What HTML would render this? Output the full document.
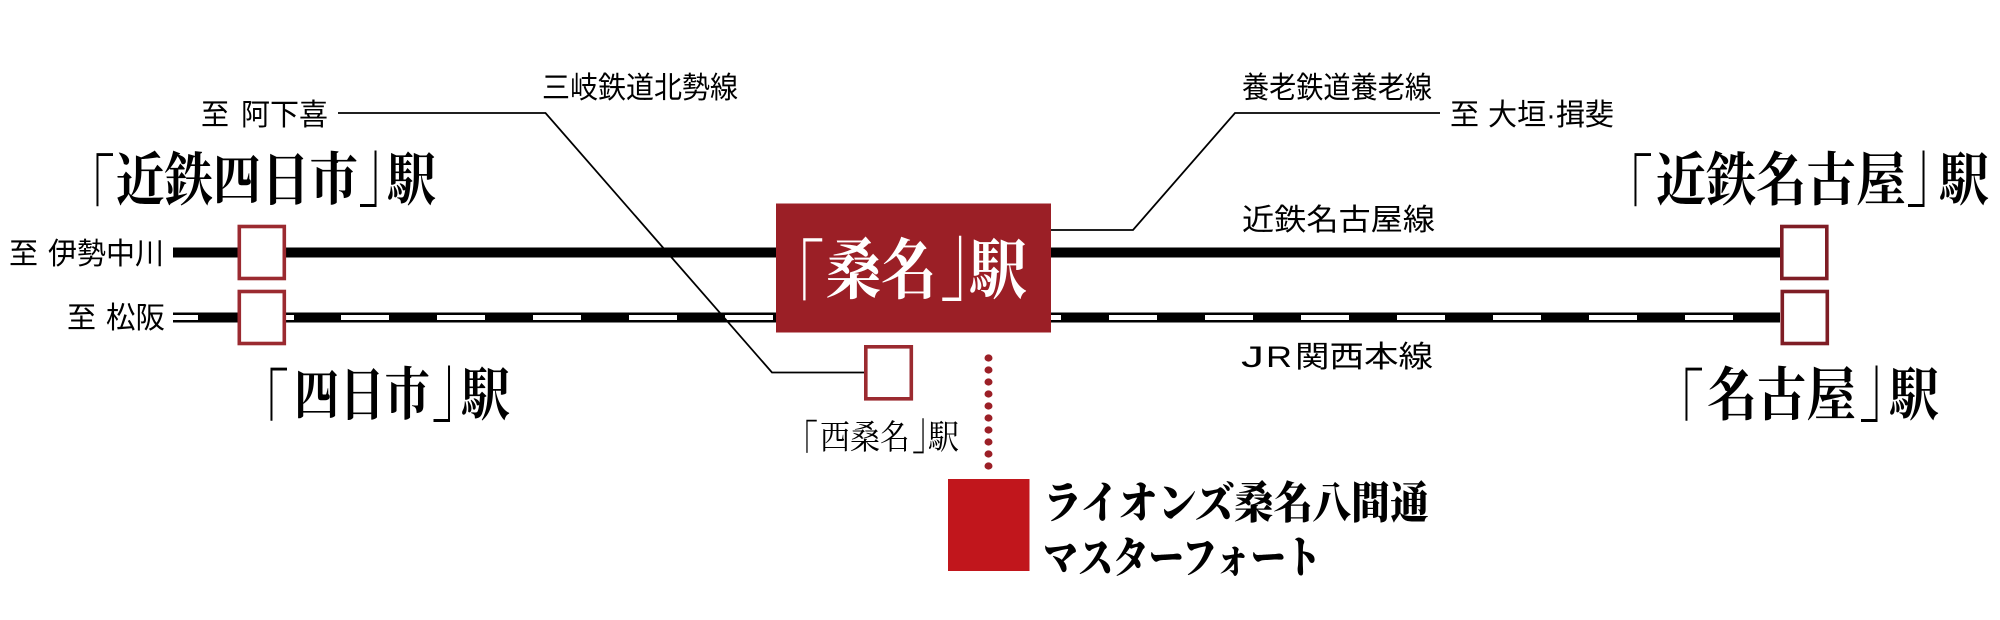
<!DOCTYPE html>
<html lang="ja"><head><meta charset="utf-8"><title>Diagram</title>
<style>
html,body{margin:0;padding:0;background:#fff;width:2000px;height:620px;overflow:hidden}
svg{display:block}
.s{font-family:"Liberation Sans","Noto Sans CJK JP",sans-serif;font-size:30px;font-weight:400;fill:#000}
.b{font-family:"Liberation Serif","Noto Serif CJK SC",serif;font-size:58px;font-weight:700;fill:#000}
.br{font-family:"Liberation Serif","Noto Serif CJK SC",serif;font-size:54px;font-weight:400;fill:#000}
.m{font-family:"Liberation Serif","Noto Serif CJK SC",serif;font-size:34px;font-weight:400;fill:#000}
.n{font-family:"Liberation Serif","Noto Serif CJK SC",serif;font-size:44px;font-weight:900;fill:#000}
.w{fill:#fff}
</style></head><body>
<svg xmlns="http://www.w3.org/2000/svg" width="2000" height="620" viewBox="0 0 2000 620">
<rect width="2000" height="620" fill="#fff"/>
<!-- lines -->
<rect x="173" y="247.5" width="1607" height="10" fill="#000"/>
<rect x="173" y="312.5" width="1607" height="10" fill="#000"/>
<g fill="#fff">
<rect x="173" y="315" width="25" height="5"/>
<rect x="286" y="315" width="8" height="5"/><rect x="341" y="315" width="48" height="5"/><rect x="437" y="315" width="48" height="5"/><rect x="533" y="315" width="48" height="5"/><rect x="629" y="315" width="48" height="5"/><rect x="725" y="315" width="48" height="5"/>
<rect x="1051" y="315" width="10" height="5"/><rect x="1109" y="315" width="48" height="5"/><rect x="1205" y="315" width="48" height="5"/><rect x="1301" y="315" width="48" height="5"/><rect x="1397" y="315" width="48" height="5"/><rect x="1493" y="315" width="48" height="5"/><rect x="1589" y="315" width="48" height="5"/><rect x="1685" y="315" width="48" height="5"/>
</g>
<!-- leader lines -->
<polyline points="338,113 545.5,113 772,372.5 866,372.5" fill="none" stroke="#000" stroke-width="1.8"/>
<polyline points="1051,230 1133,230 1235,113 1440,113" fill="none" stroke="#000" stroke-width="1.8"/>
<!-- main box -->
<rect x="776" y="203.5" width="275" height="129" fill="#9b1f26"/>
<!-- stations -->
<g fill="#fff" stroke="#9b2a30" stroke-width="3.6">
<rect x="239.3" y="226.5" width="45" height="52"/>
<rect x="239.3" y="291.5" width="45" height="52"/>
<rect x="865.8" y="346.8" width="45.5" height="52"/>
</g>
<g fill="#fff" stroke="#7f1d25" stroke-width="3.6">
<rect x="1781.8" y="226.5" width="45" height="52"/>
<rect x="1782.3" y="291.5" width="45" height="52"/>
</g>
<!-- dots -->
<g fill="#9b1f26">
<ellipse cx="988.5" cy="358" rx="4" ry="3.6"/><ellipse cx="988.5" cy="370" rx="4" ry="3.6"/><ellipse cx="988.5" cy="382" rx="4" ry="3.6"/><ellipse cx="988.5" cy="394" rx="4" ry="3.6"/><ellipse cx="988.5" cy="406" rx="4" ry="3.6"/><ellipse cx="988.5" cy="418" rx="4" ry="3.6"/><ellipse cx="988.5" cy="430" rx="4" ry="3.6"/><ellipse cx="988.5" cy="442" rx="4" ry="3.6"/><ellipse cx="988.5" cy="454" rx="4" ry="3.6"/><ellipse cx="988.5" cy="466" rx="4" ry="3.6"/>
</g>
<rect x="948" y="479" width="81.5" height="92" fill="#c1161c"/>
<!-- small labels -->
<text class="s" x="201" y="125" textLength="28" lengthAdjust="spacingAndGlyphs">至</text>
<text class="s" x="241" y="125" textLength="87" lengthAdjust="spacingAndGlyphs">阿下喜</text>
<text class="s" x="9" y="264" textLength="29" lengthAdjust="spacingAndGlyphs">至</text>
<text class="s" x="48" y="264" textLength="116" lengthAdjust="spacingAndGlyphs">伊勢中川</text>
<text class="s" x="67" y="328" textLength="29" lengthAdjust="spacingAndGlyphs">至</text>
<text class="s" x="106" y="328" textLength="59" lengthAdjust="spacingAndGlyphs">松阪</text>
<text class="s" x="542" y="98" textLength="196" lengthAdjust="spacingAndGlyphs">三岐鉄道北勢線</text>
<text class="s" x="1242" y="98" textLength="190" lengthAdjust="spacingAndGlyphs">養老鉄道養老線</text>
<text class="s" x="1450" y="125" textLength="29" lengthAdjust="spacingAndGlyphs">至</text>
<text class="s" x="1488" y="125" textLength="126" lengthAdjust="spacingAndGlyphs">大垣·揖斐</text>
<text class="s" x="1242" y="230" textLength="193" lengthAdjust="spacingAndGlyphs">近鉄名古屋線</text>
<text class="s" x="1241" y="367" textLength="23" lengthAdjust="spacingAndGlyphs">J</text>
<text class="s" x="1266" y="367" textLength="26" lengthAdjust="spacingAndGlyphs">R</text>
<text class="s" x="1295" y="367" textLength="138" lengthAdjust="spacingAndGlyphs">関西本線</text>
<!-- 近鉄四日市 -->
<text class="br" transform="translate(61,222) scale(1,1.5)">「</text>
<text class="b" x="116" y="200" textLength="242" lengthAdjust="spacingAndGlyphs">近鉄四日市</text>
<text class="br" transform="translate(358,199.5) scale(1,1.6)">」</text>
<text class="b" x="387" y="200" textLength="49" lengthAdjust="spacingAndGlyphs">駅</text>
<!-- 四日市 -->
<text class="br" transform="translate(235,436.7) scale(1,1.5)">「</text>
<text class="b" x="294" y="415" textLength="136" lengthAdjust="spacingAndGlyphs">四日市</text>
<text class="br" transform="translate(431.5,414.4) scale(1,1.6)">」</text>
<text class="b" x="461" y="415" textLength="49" lengthAdjust="spacingAndGlyphs">駅</text>
<!-- 近鉄名古屋 -->
<text class="br" transform="translate(1599,222) scale(1,1.5)">「</text>
<text class="b" x="1656" y="200" textLength="250" lengthAdjust="spacingAndGlyphs">近鉄名古屋</text>
<text class="br" transform="translate(1906,199.5) scale(1,1.6)">」</text>
<text class="b" x="1939" y="200" textLength="50" lengthAdjust="spacingAndGlyphs">駅</text>
<!-- 名古屋 -->
<text class="br" transform="translate(1650,436.7) scale(1,1.5)">「</text>
<text class="b" x="1707" y="415" textLength="149" lengthAdjust="spacingAndGlyphs">名古屋</text>
<text class="br" transform="translate(1859,414.4) scale(1,1.6)">」</text>
<text class="b" x="1889" y="415" textLength="50" lengthAdjust="spacingAndGlyphs">駅</text>
<!-- 桑名 -->
<text class="br w" style="font-size:62px" transform="translate(762.5,318.6) scale(1,1.53)">「</text>
<text class="b w" style="font-size:66px" x="826" y="293" textLength="110" lengthAdjust="spacingAndGlyphs">桑名</text>
<text class="br w" style="font-size:62px" transform="translate(940,292.5) scale(1,1.61)">」</text>
<text class="b w" style="font-size:66px" x="969" y="293" textLength="58" lengthAdjust="spacingAndGlyphs">駅</text>
<!-- 西桑名 -->
<text class="m" transform="translate(784,462.3) scale(1,1.48)">「</text>
<text class="m" x="820" y="449" textLength="90" lengthAdjust="spacingAndGlyphs">西桑名</text>
<text class="m" transform="translate(912,448.5) scale(1,1.57)">」</text>
<text class="m" x="928" y="449" textLength="31" lengthAdjust="spacingAndGlyphs">駅</text>
<!-- property name -->
<text class="n" x="1043" y="518" textLength="386" lengthAdjust="spacingAndGlyphs">ライオンズ桑名八間通</text>
<text class="n" x="1043" y="573" textLength="278" lengthAdjust="spacingAndGlyphs">マスターフォート</text>
</svg>
</body></html>
